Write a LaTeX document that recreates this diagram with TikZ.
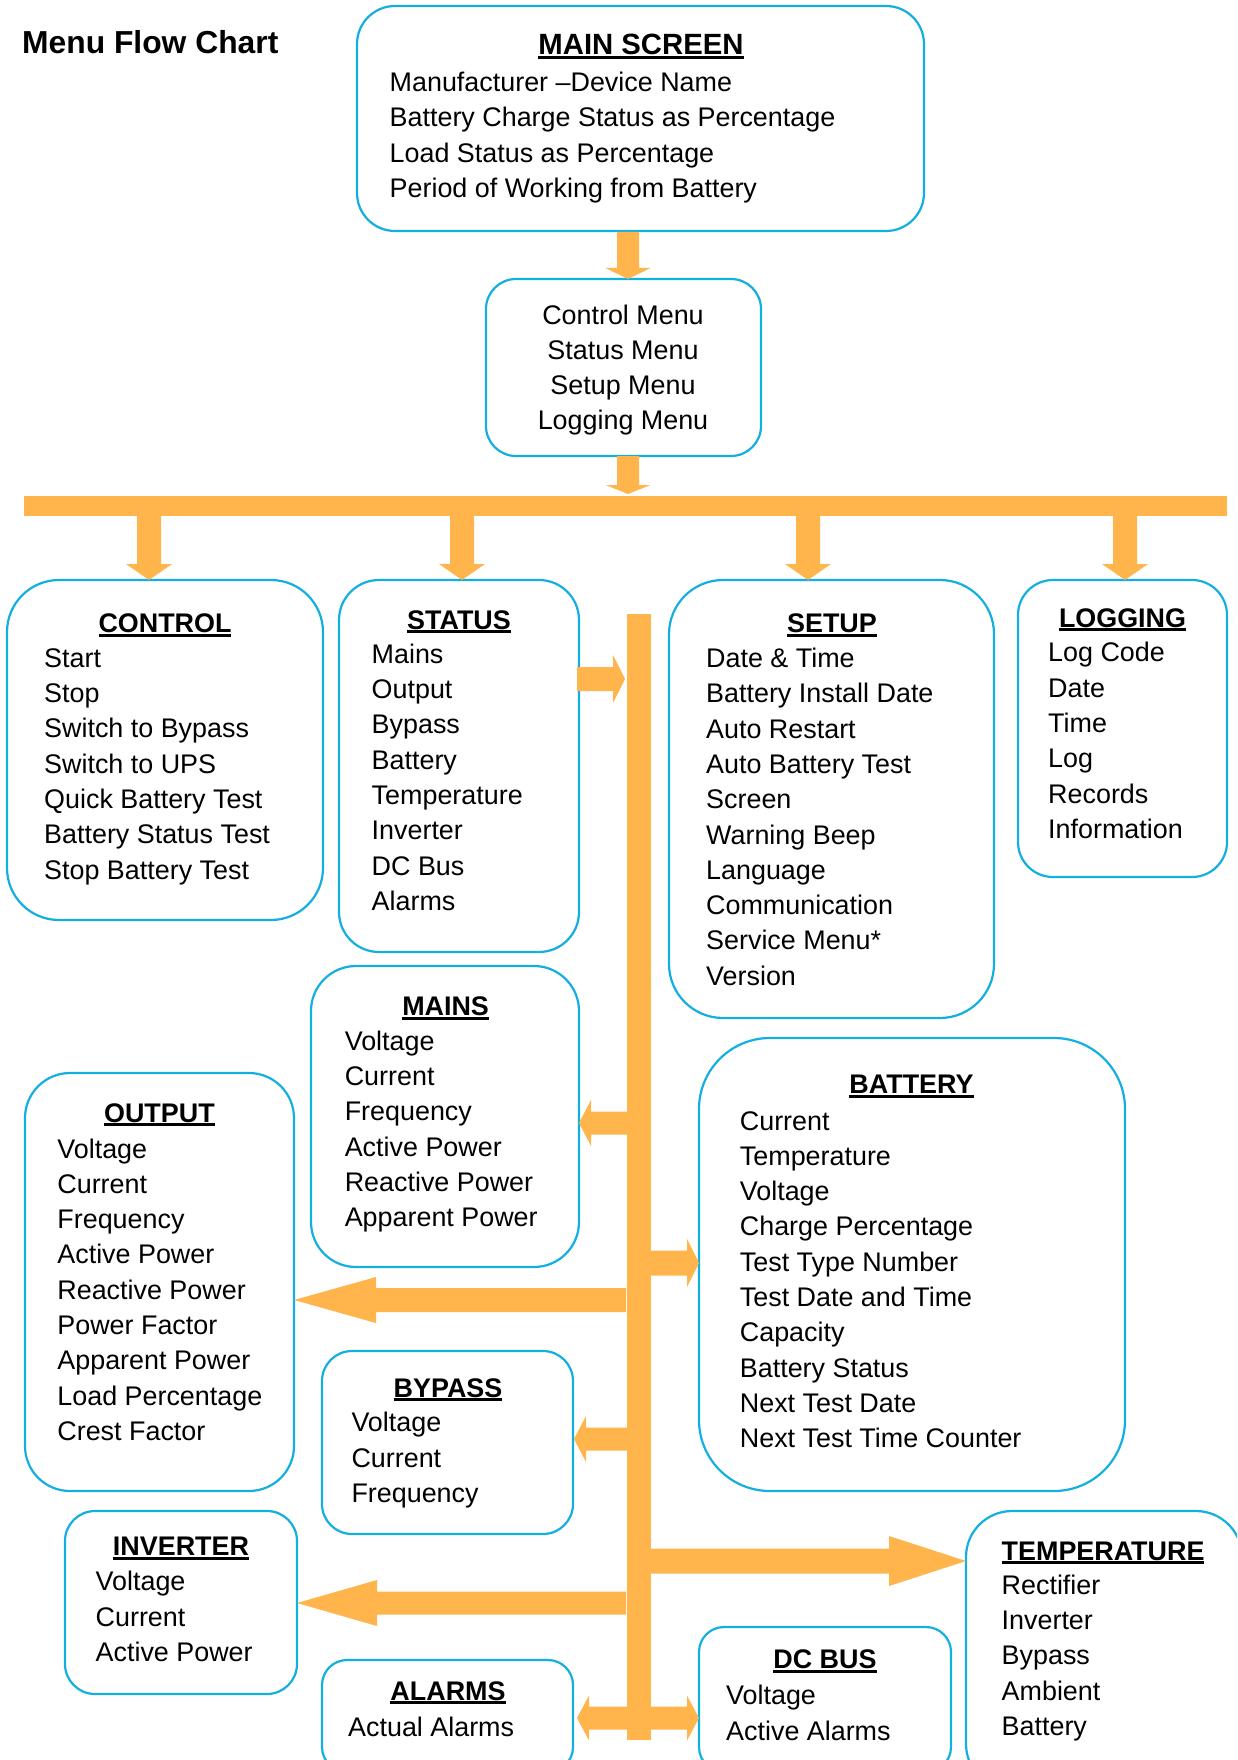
\documentclass[tikz,border=0pt]{standalone}
\usepackage{fontspec}
\setmainfont{Liberation Sans}
\definecolor{boxline}{RGB}{20,175,225}
\definecolor{flow}{RGB}{255,180,76}
\newcommand\itemfont{\fontsize{26.9}{35.3}\selectfont}
\newcommand\hdu[1]{\setbox0\hbox{\bfseries #1}\rlap{\rule[-4.2pt]{\wd0}{3pt}}\box0}
% horizontal block arrow: x-start, x-tip, y, shaft half, head half, signed head length
\newcommand\harrow[6]{\fill[flow] ({#1},{#3-(#4)}) -- ({#2-(#6)},{#3-(#4)}) -- ({#2-(#6)},{#3-(#5)}) -- ({#2},{#3}) -- ({#2-(#6)},{#3+(#5)}) -- ({#2-(#6)},{#3+(#4)}) -- ({#1},{#3+(#4)}) -- cycle;}
% vertical block arrow: x, y-start, y-tip, shaft half, head half, head length
\newcommand\varrow[6]{\fill[flow] ({#1-(#4)},{#2}) -- ({#1-(#4)},{#3-(#6)}) -- ({#1-(#5)},{#3-(#6)}) -- ({#1},{#3}) -- ({#1+(#5)},{#3-(#6)}) -- ({#1+(#4)},{#3-(#6)}) -- ({#1+(#4)},{#2}) -- cycle;}
\begin{document}
\begin{tikzpicture}[x=1pt,y=-1pt,
  box/.style={draw=boxline, line width=2.2pt, inner sep=0pt, outer sep=0pt},
  ttl/.style={font=\itemfont, anchor=base, inner sep=0pt},
  items/.style={font=\itemfont, align=left, anchor=north west, inner sep=0pt},
  bar/.style={fill=flow}]
\useasboundingbox (0,0) rectangle (1237,1760);
\clip (0,0) rectangle (1237,1760);

% title
\node[font=\fontsize{31.8}{38}\selectfont\bfseries, anchor=base west, inner sep=0pt] (chart) at (22,54) {Menu Flow Chart};

% boxes
\node[box, minimum width=567, minimum height=225, rounded corners=38] (main) at (640.5,118.5) {};
\node[box, minimum width=275, minimum height=177, rounded corners=30] (menu) at (623.5,367.5) {};
\node[box, minimum width=316, minimum height=340, rounded corners=52] (control) at (165,750) {};
\node[box, minimum width=240, minimum height=372, rounded corners=40] (status) at (459,766) {};
\node[box, minimum width=325, minimum height=438, rounded corners=54] (setup) at (831.5,799) {};
\node[box, minimum width=209, minimum height=297, rounded corners=35] (logging) at (1122.5,728.5) {};
\node[box, minimum width=268, minimum height=301, rounded corners=45] (mains) at (445,1116.5) {};
\node[box, minimum width=269, minimum height=418, rounded corners=45] (output) at (159.5,1282) {};
\node[box, minimum width=426, minimum height=453, rounded corners=71] (battery) at (912,1264.5) {};
\node[box, minimum width=251, minimum height=183, rounded corners=30] (bypass) at (447.5,1442.5) {};
\node[box, minimum width=232, minimum height=183, rounded corners=30] (inverter) at (181,1602.5) {};
\node[box, minimum width=276, minimum height=279, rounded corners=46] (temperature) at (1104,1650.5) {};
\node[box, minimum width=251, minimum height=112, rounded corners=25] (alarms) at (447.5,1716) {};
\node[box, minimum width=252, minimum height=145, rounded corners=25] (dcbus) at (825,1699.5) {};

% texts
\node[ttl, font=\fontsize{29.3}{35.3}\selectfont] (mainT) at (641,54.4) {\hdu{MAIN SCREEN}};
\node[items] (mainI) at (389.5,{91.4-24.71}) {\strut Manufacturer –Device Name\\Battery Charge Status as Percentage\\Load Status as Percentage\\Period of Working from Battery};
\node[items, align=center, anchor=north] (menuI) at (623,{323.8-24.71}) {\strut Control Menu\\Status Menu\\Setup Menu\\Logging Menu};

\node[ttl] (controlT) at (165,632.5) {\hdu{CONTROL}};
\node[items] (controlI) at (44,{667-24.71}) {\strut Start\\Stop\\Switch to Bypass\\Switch to UPS\\Quick Battery Test\\Battery Status Test\\Stop Battery Test};

\node[ttl] (statusT) at (459,629) {\hdu{STATUS}};
\node[items] (statusI) at (371.5,{663-24.71}) {\strut Mains\\Output\\Bypass\\Battery\\Temperature\\Inverter\\DC Bus\\Alarms};

\node[ttl] (setupT) at (832,632.5) {\hdu{SETUP}};
\node[items] (setupI) at (706,{667.3-24.71}) {\strut Date \& Time\\Battery Install Date\\Auto Restart\\Auto Battery Test\\Screen\\Warning Beep\\Language\\Communication\\Service Menu*\\Version};

\node[ttl] (loggingT) at (1122.5,627) {\hdu{LOGGING}};
\node[items] (loggingI) at (1048,{661.7-24.71}) {\strut Log Code\\Date\\Time\\Log\\Records\\Information};

\node[ttl] (mainsT) at (445.6,1015.3) {\hdu{MAINS}};
\node[items] (mainsI) at (344.6,{1050.1-24.71}) {\strut Voltage\\Current\\Frequency\\Active Power\\Reactive Power\\Apparent Power};

\node[ttl] (outputT) at (159.4,1122) {\hdu{OUTPUT}};
\node[items] (outputI) at (57.2,{1157.8-24.71}) {\strut Voltage\\Current\\Frequency\\Active Power\\Reactive Power\\Power Factor\\Apparent Power\\Load Percentage\\Crest Factor};

\node[ttl] (batteryT) at (911.5,1093.8) {\hdu{BATTERY}};
\node[items] (batteryI) at (739.7,{1129.8-24.71}) {\strut Current\\Temperature\\Voltage\\Charge Percentage\\Test Type Number\\Test Date and Time\\Capacity\\Battery Status\\Next Test Date\\Next Test Time Counter};

\node[ttl] (bypassT) at (448,1397) {\hdu{BYPASS}};
\node[items] (bypassI) at (351.3,{1431.7-24.71}) {\strut Voltage\\Current\\Frequency};

\node[ttl] (inverterT) at (181,1555.5) {\hdu{INVERTER}};
\node[items] (inverterI) at (95.5,{1590.5-24.71}) {\strut Voltage\\Current\\Active Power};

\node[ttl, anchor=base west] (temperatureT) at (1001.5,1560) {\hdu{TEMPERATURE}};
\node[items] (temperatureI) at (1001.5,{1594-24.71}) {\strut Rectifier\\Inverter\\Bypass\\Ambient\\Battery};

\node[ttl] (alarmsT) at (448,1700) {\hdu{ALARMS}};
\node[items] (alarmsI) at (348,{1736-24.71}) {\strut Actual Alarms};

\node[ttl] (dcbusT) at (825,1668.6) {\hdu{DC BUS}};
\node[items] (dcbusI) at (726,{1704.5-24.71}) {\strut Voltage\\Active Alarms};

% bars
\fill[bar] (24,496) rectangle (1227,516);
\fill[bar] (627,614) rectangle (651,1740);

% arrows
\varrow{628}{232}{279}{11}{22.5}{11}
\varrow{628}{456}{494}{11}{22.5}{9}
\varrow{149}{515}{580}{12}{23}{16}
\varrow{462}{515}{580}{12}{23}{16}
\varrow{808}{515}{580}{12}{23}{16}
\varrow{1125}{515}{580}{12}{23}{16}

\harrow{577}{625}{679}{12}{24}{12}
\harrow{628}{579}{1123}{11.5}{23}{-12}
\harrow{650}{699}{1263}{12.5}{24}{12}
\harrow{626}{294}{1300}{12}{23}{-82}
\harrow{628}{574}{1439}{11.5}{23}{-12}
\harrow{650}{966}{1561}{12.5}{25}{77}
\harrow{626}{297}{1603}{11.5}{23}{-80}
\harrow{640}{577}{1718}{11.5}{22.5}{-12}
\harrow{640}{699}{1718}{11.5}{22.5}{12}
\end{tikzpicture}
\end{document}
